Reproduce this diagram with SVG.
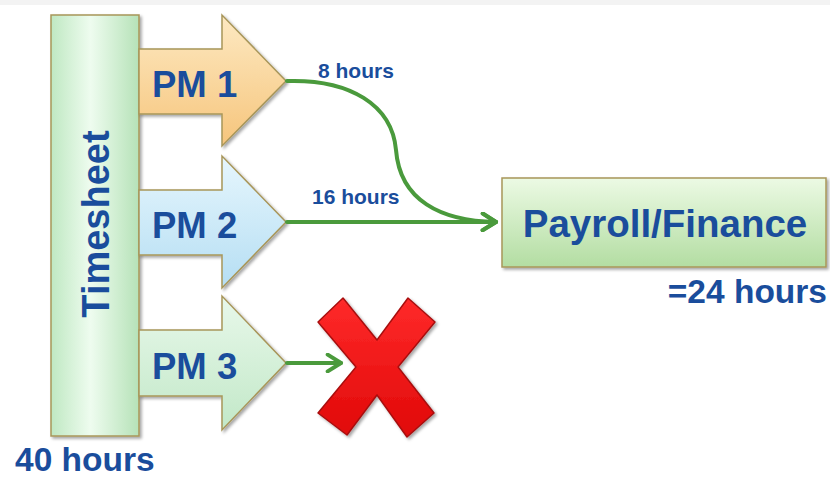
<svg xmlns="http://www.w3.org/2000/svg" width="830" height="480" viewBox="0 0 830 480">
<defs>
<linearGradient id="gBar" x1="0" y1="0" x2="1" y2="0">
<stop offset="0" stop-color="#bfe8c2"/><stop offset="0.45" stop-color="#eefcef"/><stop offset="1" stop-color="#b6e2b8"/>
</linearGradient>
<linearGradient id="g1" x1="0" y1="0" x2="0" y2="1">
<stop offset="0" stop-color="#fde9c2"/><stop offset="1" stop-color="#f6c57c"/>
</linearGradient>
<linearGradient id="g2" x1="0" y1="0" x2="0" y2="1">
<stop offset="0" stop-color="#e6f6fd"/><stop offset="1" stop-color="#b5def3"/>
</linearGradient>
<linearGradient id="g3" x1="0" y1="0" x2="0" y2="1">
<stop offset="0" stop-color="#e8f8ea"/><stop offset="1" stop-color="#c2e8c8"/>
</linearGradient>
<linearGradient id="gPay" x1="0" y1="0" x2="0" y2="1">
<stop offset="0" stop-color="#ecfae4"/><stop offset="1" stop-color="#b3dda2"/>
</linearGradient>
<linearGradient id="gX" x1="0" y1="0" x2="0" y2="1">
<stop offset="0" stop-color="#ff2a2a"/><stop offset="1" stop-color="#e00808"/>
</linearGradient>
<filter id="sh" x="-10%" y="-10%" width="130%" height="130%">
<feDropShadow dx="2" dy="2" stdDeviation="1.5" flood-color="#000" flood-opacity="0.35"/>
</filter>
<marker id="chev" viewBox="0 0 12 12" refX="10" refY="6" markerWidth="5" markerHeight="5" orient="auto" markerUnits="strokeWidth">
<path d="M2,1 L10,6 L2,11" fill="none" stroke="#4a9a3c" stroke-width="2.4" stroke-linecap="round" stroke-linejoin="round"/>
</marker>
</defs>
<style>
.lbl{font-family:"Liberation Sans",Arial,sans-serif;font-weight:bold;fill:#1a4d9c}
.shape{stroke:#a8965a;stroke-width:1.5;filter:url(#sh)}
.conn{fill:none;stroke:#4a9a3c;stroke-width:4;stroke-linecap:round}
</style>
<rect x="0" y="0" width="830" height="5" fill="#f3f3f3"/>

<g id="timesheet">
<rect class="shape" x="51" y="15" width="88" height="421" fill="url(#gBar)"/>
<text class="lbl" font-size="38" text-anchor="middle" transform="translate(109,224) rotate(-90)">Timesheet</text>
</g>

<g id="pm1">
<polygon class="shape" points="139,49 222,49 222,15 286,81 222,146 222,114 139,114" fill="url(#g1)"/>
<text class="lbl" font-size="36.5" x="152" y="97">PM 1</text>
</g>

<g id="pm2">
<polygon class="shape" points="139,190 222,190 222,156 286,222 222,288 222,255 139,255" fill="url(#g2)"/>
<text class="lbl" font-size="36.5" x="152" y="238">PM 2</text>
</g>

<g id="pm3">
<polygon class="shape" points="139,330 222,330 222,296 286,363 222,430 222,396 139,396" fill="url(#g3)"/>
<text class="lbl" font-size="36.5" x="152" y="379">PM 3</text>
</g>

<g id="payroll">
<rect class="shape" x="502" y="178" width="324" height="89" fill="url(#gPay)"/>
<text class="lbl" font-size="38.5" text-anchor="middle" x="665" y="237">Payroll/Finance</text>
</g>

<g id="reject">
<polygon points="343,298 377,340 408,298 435,322 398,367 434,413 407,437 377,395 347,435 318,413 356,367 318,322" fill="url(#gX)" stroke="#a81010" stroke-width="1.5" stroke-linejoin="round" filter="url(#sh)"/>
</g>

<g id="connectors">
<path class="conn" d="M287,81 C350,79 392,105 396,150 C400,200 440,221 496,222" marker-end="url(#chev)"/>
<path class="conn" d="M287,222 L496,222" marker-end="url(#chev)"/>
<path class="conn" d="M287,363 L341,363" marker-end="url(#chev)"/>
</g>

<g id="labels">
<text class="lbl" font-size="21" x="318" y="78">8 hours</text>
<text class="lbl" font-size="21" x="312" y="204">16 hours</text>
<text class="lbl" font-size="33.5" text-anchor="end" x="827" y="303">=24 hours</text>
<text class="lbl" font-size="33.5" x="15" y="471">40 hours</text>
</g>
</svg>
